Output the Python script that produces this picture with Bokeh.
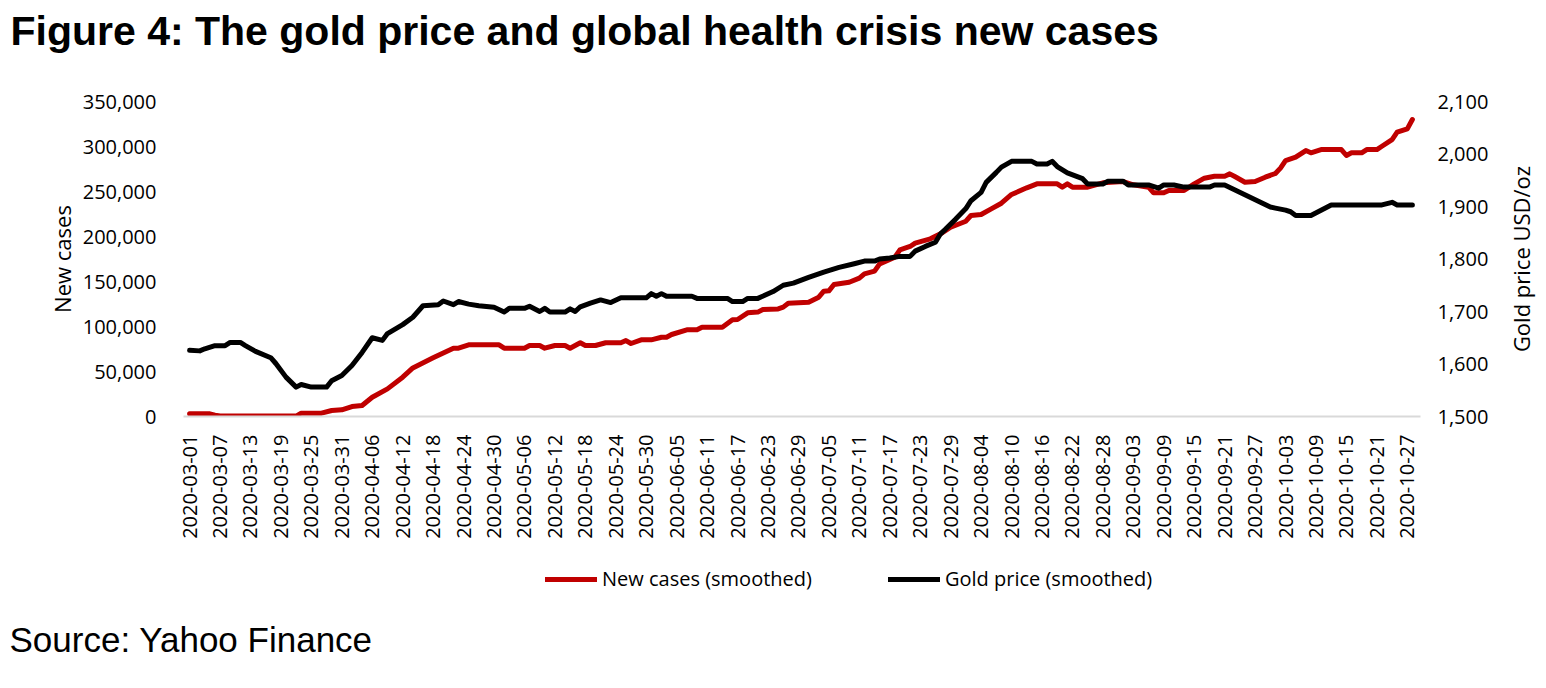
import math
import pandas as pd
from bokeh.plotting import figure
from bokeh.layouts import column, row
from bokeh.models import (Range1d, LinearAxis, FixedTicker, NumeralTickFormatter,
                          Legend, LegendItem, Label, ColumnDataSource)
from bokeh.embed import file_html
from bokeh.resources import INLINE

# ---------------- data ----------------
START = "2020-03-01"

gold_dates = [
    "2020-03-01", "2020-03-03", "2020-03-04", "2020-03-06", "2020-03-08", "2020-03-09", "2020-03-11",
    "2020-03-12", "2020-03-14", "2020-03-17", "2020-03-18", "2020-03-20", "2020-03-22", "2020-03-23",
    "2020-03-25", "2020-03-28", "2020-03-29", "2020-03-31",
    "2020-04-02", "2020-04-04", "2020-04-06", "2020-04-08", "2020-04-09", "2020-04-12", "2020-04-14",
    "2020-04-16", "2020-04-19", "2020-04-20", "2020-04-22", "2020-04-23", "2020-04-25", "2020-04-27",
    "2020-04-29", "2020-04-30",
    "2020-05-02", "2020-05-03", "2020-05-06", "2020-05-07", "2020-05-09", "2020-05-10", "2020-05-11",
    "2020-05-14", "2020-05-15", "2020-05-16", "2020-05-17", "2020-05-19", "2020-05-21", "2020-05-23",
    "2020-05-25", "2020-05-30", "2020-05-31",
    "2020-06-01", "2020-06-02", "2020-06-03", "2020-06-08", "2020-06-09", "2020-06-15", "2020-06-16",
    "2020-06-18", "2020-06-19", "2020-06-21", "2020-06-24", "2020-06-26", "2020-06-28",
    "2020-07-01", "2020-07-04", "2020-07-07", "2020-07-10", "2020-07-12", "2020-07-14", "2020-07-15",
    "2020-07-17", "2020-07-19", "2020-07-21", "2020-07-22", "2020-07-24", "2020-07-26", "2020-07-27",
    "2020-07-28", "2020-07-30",
    "2020-08-01", "2020-08-02", "2020-08-04", "2020-08-05", "2020-08-07", "2020-08-08", "2020-08-10",
    "2020-08-14", "2020-08-15", "2020-08-17", "2020-08-18", "2020-08-19", "2020-08-21", "2020-08-24",
    "2020-08-25", "2020-08-28", "2020-08-29",
    "2020-09-01", "2020-09-02", "2020-09-06", "2020-09-08", "2020-09-09", "2020-09-11", "2020-09-13",
    "2020-09-18", "2020-09-19", "2020-09-21", "2020-09-30",
    "2020-10-01", "2020-10-03", "2020-10-04", "2020-10-05", "2020-10-08", "2020-10-12", "2020-10-22",
    "2020-10-24", "2020-10-25", "2020-10-28",
]
gold_values = [
    1626, 1625, 1629, 1635, 1635, 1641, 1641,
    1635, 1624, 1612, 1601, 1575, 1556, 1561,
    1556, 1556, 1568, 1578,
    1597, 1622, 1650, 1645, 1658, 1675, 1689,
    1711, 1713, 1720, 1713, 1719, 1714, 1711,
    1709, 1708,
    1699, 1706, 1706, 1710, 1700, 1706, 1699,
    1699, 1705, 1700, 1709, 1716, 1722, 1717,
    1726, 1726, 1734,
    1729, 1734, 1729, 1729, 1725, 1725, 1719,
    1719, 1725, 1725, 1738, 1750, 1754,
    1765, 1775, 1784, 1791, 1796, 1796, 1800,
    1802, 1805, 1805, 1815, 1824, 1832, 1848,
    1857, 1876,
    1896, 1911, 1927, 1946, 1965, 1975, 1986,
    1986, 1981, 1981, 1986, 1976, 1964, 1953,
    1943, 1943, 1948,
    1948, 1941, 1941, 1935, 1941, 1941, 1937,
    1937, 1941, 1941, 1899,
    1897, 1893, 1890, 1883, 1883, 1903, 1903,
    1908, 1903, 1903,
]

case_dates = [
    "2020-03-01", "2020-03-05", "2020-03-06", "2020-03-07", "2020-03-22", "2020-03-23", "2020-03-27",
    "2020-03-29", "2020-03-31",
    "2020-04-02", "2020-04-04", "2020-04-06", "2020-04-09", "2020-04-12", "2020-04-14", "2020-04-18",
    "2020-04-22", "2020-04-23", "2020-04-25",
    "2020-05-01", "2020-05-02", "2020-05-06", "2020-05-07", "2020-05-09", "2020-05-10", "2020-05-12",
    "2020-05-14", "2020-05-15", "2020-05-16", "2020-05-17", "2020-05-18", "2020-05-20", "2020-05-22",
    "2020-05-25", "2020-05-26", "2020-05-27", "2020-05-29", "2020-05-31",
    "2020-06-02", "2020-06-03", "2020-06-04", "2020-06-07", "2020-06-09", "2020-06-10", "2020-06-14",
    "2020-06-16", "2020-06-17", "2020-06-19", "2020-06-21", "2020-06-22", "2020-06-25", "2020-06-26",
    "2020-06-27",
    "2020-07-01", "2020-07-03", "2020-07-04", "2020-07-05", "2020-07-06", "2020-07-09", "2020-07-11",
    "2020-07-12", "2020-07-14", "2020-07-15", "2020-07-18", "2020-07-19", "2020-07-21", "2020-07-22",
    "2020-07-25", "2020-07-27", "2020-07-29",
    "2020-08-01", "2020-08-02", "2020-08-04", "2020-08-06", "2020-08-08", "2020-08-10", "2020-08-13",
    "2020-08-15", "2020-08-19", "2020-08-20", "2020-08-21", "2020-08-22", "2020-08-25", "2020-08-28",
    "2020-09-01", "2020-09-03", "2020-09-06", "2020-09-07", "2020-09-09", "2020-09-10", "2020-09-13",
    "2020-09-15", "2020-09-17", "2020-09-19", "2020-09-21", "2020-09-22", "2020-09-23", "2020-09-25",
    "2020-09-27", "2020-09-29",
    "2020-10-01", "2020-10-02", "2020-10-03", "2020-10-05", "2020-10-07", "2020-10-08", "2020-10-10",
    "2020-10-14", "2020-10-15", "2020-10-16", "2020-10-18", "2020-10-19", "2020-10-21", "2020-10-22",
    "2020-10-24", "2020-10-25", "2020-10-27", "2020-10-28",
]
case_values = [
    3000, 3000, 1500, 500, 500, 3700, 3700,
    6700, 7400,
    11100, 12200, 21400, 30700, 43700, 54000, 65200,
    75900, 75900, 79600,
    79600, 75900, 75900, 78900, 78900, 75900, 78900,
    78900, 75900, 78900, 81900, 78900, 78900, 81900,
    81900, 84400, 81100, 85200, 85200,
    88100, 88100, 91100, 96300, 96300, 99200, 99200,
    107400, 107800, 115200, 116000, 118900, 119500, 121500,
    125900,
    127000, 132600, 139200, 139600, 146700, 149200, 153700,
    158500, 161500, 169600, 177000, 185200, 188900, 192600,
    197400, 203000, 210300,
    217000, 223300, 224400, 230700, 237000, 246700, 254100,
    258500, 258500, 254800, 258500, 254800, 254800, 259600,
    261100, 257400, 254800, 248500, 248500, 251100, 251100,
    258500, 264800, 267000, 267000, 269600, 266600, 260300,
    261100, 265900,
    270000, 276000, 284400, 288100, 295500, 293000, 296600,
    296600, 290000, 293000, 293000, 296600, 296600, 300300,
    307700, 315900, 319600, 330000,
]

x_tick_labels = [
    "2020-03-01", "2020-03-07", "2020-03-13", "2020-03-19", "2020-03-25", "2020-03-31",
    "2020-04-06", "2020-04-12", "2020-04-18", "2020-04-24", "2020-04-30",
    "2020-05-06", "2020-05-12", "2020-05-18", "2020-05-24", "2020-05-30",
    "2020-06-05", "2020-06-11", "2020-06-17", "2020-06-23", "2020-06-29",
    "2020-07-05", "2020-07-11", "2020-07-17", "2020-07-23", "2020-07-29",
    "2020-08-04", "2020-08-10", "2020-08-16", "2020-08-22", "2020-08-28",
    "2020-09-03", "2020-09-09", "2020-09-15", "2020-09-21", "2020-09-27",
    "2020-10-03", "2020-10-09", "2020-10-15", "2020-10-21", "2020-10-27",
]
left_ticks = [0, 50000, 100000, 150000, 200000, 250000, 300000, 350000]
right_ticks = [1500, 1600, 1700, 1800, 1900, 2000, 2100]

series_names = ["New cases (smoothed)", "Gold price (smoothed)"]
title_text = "Figure 4: The gold price and global health crisis new cases"
source_text = "Source: Yahoo Finance"
left_axis_title = "New cases"
right_axis_title = "Gold price USD/oz"


def day_index(dates):
    t0 = pd.Timestamp(START)
    return [(pd.Timestamp(d) - t0).days for d in dates]


cases_src = ColumnDataSource(dict(x=day_index(case_dates), y=case_values))
gold_src = ColumnDataSource(dict(x=day_index(gold_dates), y=gold_values))
tick_pos = day_index(x_tick_labels)

AX_FONT = "Open Sans"
TEXT_COLOR = "#000000"
RED = "#c00000"
BLACK = "#000000"
W = 1540
X_RANGE = (-1.2, 242.6)


def bare_figure(width, height):
    f = figure(width=width, height=height, output_backend="svg", toolbar_location=None,
               title=None, x_axis_type=None, y_axis_type=None,
               x_range=Range1d(*X_RANGE), y_range=Range1d(-2, -1),
               min_border=0, min_border_left=0, min_border_right=0,
               min_border_top=0, min_border_bottom=0)
    f.frame_align = False
    f.outline_line_color = None
    f.xgrid.visible = False
    f.ygrid.visible = False
    f.background_fill_color = "white"
    f.border_fill_color = "white"
    return f


# ---------------- top strip: title ----------------
TOP_H = 86
top = bare_figure(W, TOP_H)
top.add_layout(Label(x=10, y=56, x_units="screen", y_units="screen",
                     text=title_text, text_font="Liberation Sans", text_font_style="bold",
                     text_font_size="41px", text_color="#000000",
                     text_baseline="alphabetic", text_align="left"))

# ---------------- main chart ----------------
MAIN_W = 1500
MAIN_H = 470
ML, MR, MT, MB = 183, MAIN_W - 1420, 15, 140

p = figure(width=MAIN_W, height=MAIN_H, output_backend="svg", toolbar_location=None, title=None,
           x_range=Range1d(*X_RANGE), y_range=Range1d(left_ticks[0], left_ticks[-1]),
           min_border_left=ML, min_border_right=MR, min_border_top=MT, min_border_bottom=MB,
           x_axis_location="below", y_axis_location="left")
p.frame_align = False
p.outline_line_color = None
p.xgrid.visible = False
p.ygrid.visible = False
p.background_fill_color = "white"
p.border_fill_color = "white"
p.extra_y_ranges = {"gold": Range1d(right_ticks[0], right_ticks[-1])}

# x axis
xa = p.xaxis[0]
xa.ticker = FixedTicker(ticks=tick_pos)
xa.major_label_overrides = {t: lab for t, lab in zip(tick_pos, x_tick_labels)}
xa.major_label_orientation = math.pi / 2
xa.major_label_text_font = AX_FONT
xa.major_label_text_font_size = "20px"
xa.major_label_text_color = TEXT_COLOR
xa.major_label_standoff = 18
xa.axis_line_color = "#d9d9d9"
xa.axis_line_width = 2
xa.major_tick_line_color = None
xa.minor_tick_line_color = None
xa.major_tick_out = 0
xa.major_tick_in = 0

# left axis
ya = p.yaxis[0]
ya.ticker = FixedTicker(ticks=left_ticks)
ya.formatter = NumeralTickFormatter(format="0,0")
ya.major_label_text_font = AX_FONT
ya.major_label_text_font_size = "20px"
ya.major_label_text_color = TEXT_COLOR
ya.major_label_standoff = 27
ya.axis_line_color = None
ya.major_tick_line_color = None
ya.minor_tick_line_color = None
ya.major_tick_out = 0
ya.major_tick_in = 0
ya.axis_label = left_axis_title
ya.axis_label_text_font = AX_FONT
ya.axis_label_text_font_size = "22px"
ya.axis_label_text_font_style = "normal"
ya.axis_label_text_color = TEXT_COLOR
ya.axis_label_standoff = 3

# right axis
ra = LinearAxis(y_range_name="gold")
ra.ticker = FixedTicker(ticks=right_ticks)
ra.formatter = NumeralTickFormatter(format="0,0")
ra.major_label_text_font = AX_FONT
ra.major_label_text_font_size = "20px"
ra.major_label_text_color = TEXT_COLOR
ra.major_label_standoff = 17
ra.axis_line_color = None
ra.major_tick_line_color = None
ra.minor_tick_line_color = None
ra.major_tick_out = 0
ra.major_tick_in = 0
p.add_layout(ra, "right")

# lines
p.line("x", "y", source=cases_src, line_color=RED, line_width=5,
       line_join="round", line_cap="round")
p.line("x", "y", source=gold_src, y_range_name="gold", line_color=BLACK,
       line_width=5, line_join="round", line_cap="round")

# ---------------- right strip: secondary axis title ----------------
side = bare_figure(W - MAIN_W, MAIN_H)
side.add_layout(Label(x=20, y=MAIN_H - (258.5 - TOP_H), x_units="screen", y_units="screen",
                      text=right_axis_title, angle=math.pi / 2, text_font=AX_FONT,
                      text_font_size="22px", text_color=TEXT_COLOR,
                      text_align="center", text_baseline="middle"))

# ---------------- bottom strip: legend + source ----------------
BOT_H = 672 - TOP_H - MAIN_H
bot = bare_figure(W, BOT_H)
# same series, drawn on this strip's scales (they fall outside its visible window)
k_cases = bot.line("x", "y", source=cases_src, line_color=RED, line_width=5,
                   line_join="round", line_cap="round")
k_gold = bot.line("x", "y", source=gold_src, line_color=BLACK, line_width=5,
                  line_join="round", line_cap="round")
legend = Legend(items=[LegendItem(label=series_names[0], renderers=[k_cases]),
                       LegendItem(label=series_names[1], renderers=[k_gold])],
                orientation="horizontal", location=(545, BOT_H - 36),
                glyph_width=52, glyph_height=20, label_standoff=5, spacing=76,
                padding=0, margin=0, border_line_color=None, background_fill_alpha=0,
                label_text_font=AX_FONT, label_text_font_size="20px",
                label_text_color=TEXT_COLOR)
bot.add_layout(legend, "center")
bot.add_layout(Label(x=9, y=33, x_units="screen", y_units="screen",
                     text=source_text, text_font="Liberation Sans", text_font_style="normal",
                     text_font_size="35px", text_color="#000000",
                     text_baseline="alphabetic", text_align="left"))

layout = column(top, row(p, side, spacing=0), bot, spacing=0)
open("out.html", "w").write(file_html(layout, INLINE))
